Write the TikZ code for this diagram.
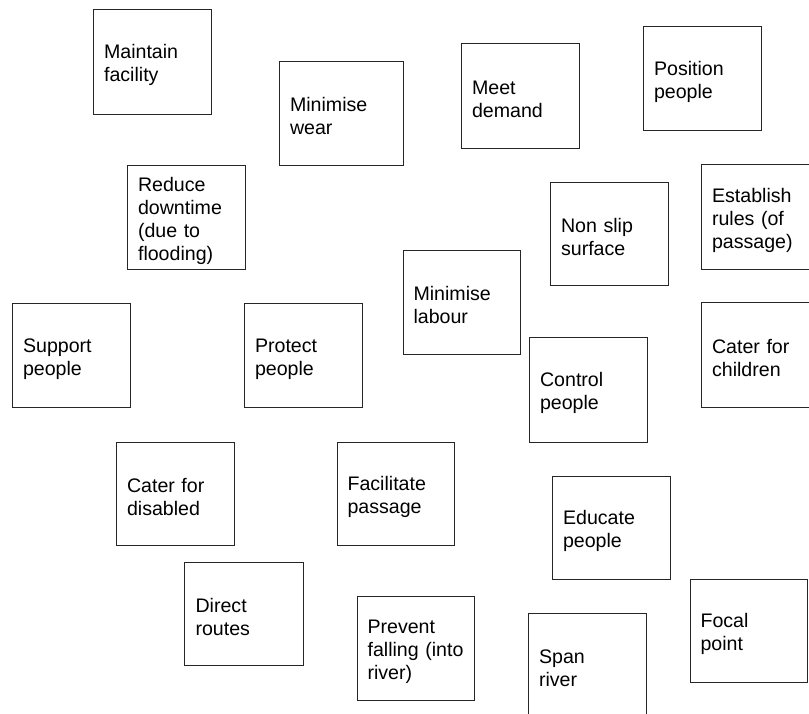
\documentclass[tikz,border=0pt]{standalone}
\usepackage{fontspec}
\setmainfont{Liberation Sans}
\begin{document}
\begin{tikzpicture}[x=1pt,y=1pt,
  card/.style={draw=black!85, line width=1.1pt, rectangle, anchor=north west,
    minimum width=118pt, minimum height=104pt, text width=97pt, align=left,
    inner xsep=10pt, inner ysep=0pt,
    execute at begin node={\rule{0pt}{20pt}},
    font=\fontsize{19.6}{23}\selectfont}]
\useasboundingbox (0,0) rectangle (809,714);
\clip (0,0) rectangle (809,714);
% top row
\node[card, minimum height=105pt] (maintain) at (93,705) {Maintain\\facility};
\node[card, minimum width=124pt, text width=103pt] (wear) at (279,653) {Minimise\\wear};
\node[card, minimum height=105pt] (demand) at (461,671) {Meet\\demand};
\node[card] (position) at (643,688) {Position\\people};
% second band
\node[card] (downtime) at (127,549) {Reduce\\downtime\\(due to\\flooding)};
\node[card, minimum height=103pt] (nonslip) at (550,532) {Non slip\\surface};
\node[card, minimum height=105pt] (rules) at (701,550) {Establish\\rules (of\\passage)};
\node[card, minimum width=116pt] (labour) at (403,464) {Minimise\\labour};
% middle band
\node[card] (support) at (12,411) {Support\\people};
\node[card] (protect) at (244,411) {Protect\\people};
\node[card, minimum height=105pt] (children) at (701,412) {Cater for\\children};
\node[card, minimum height=105pt] (control) at (529,377) {Control\\people};
% lower band
\node[card, minimum height=103pt] (disabled) at (116,272) {Cater for\\disabled};
\node[card, minimum width=116pt, minimum height=103pt] (passage) at (337,272) {Facilitate\\passage};
\node[card, minimum height=103pt] (educate) at (552,238) {Educate\\people};
% bottom band
\node[card, minimum width=119pt, minimum height=103pt] (routes) at (184,152) {Direct\\routes};
\node[card, minimum width=117pt] (falling) at (357,118) {Prevent\\falling (into\\river)};
\node[card, minimum width=117pt, minimum height=103pt] (focal) at (690,135) {Focal\\point};
\node[card] (span) at (528,101) {Span\\river};
\end{tikzpicture}
\end{document}
